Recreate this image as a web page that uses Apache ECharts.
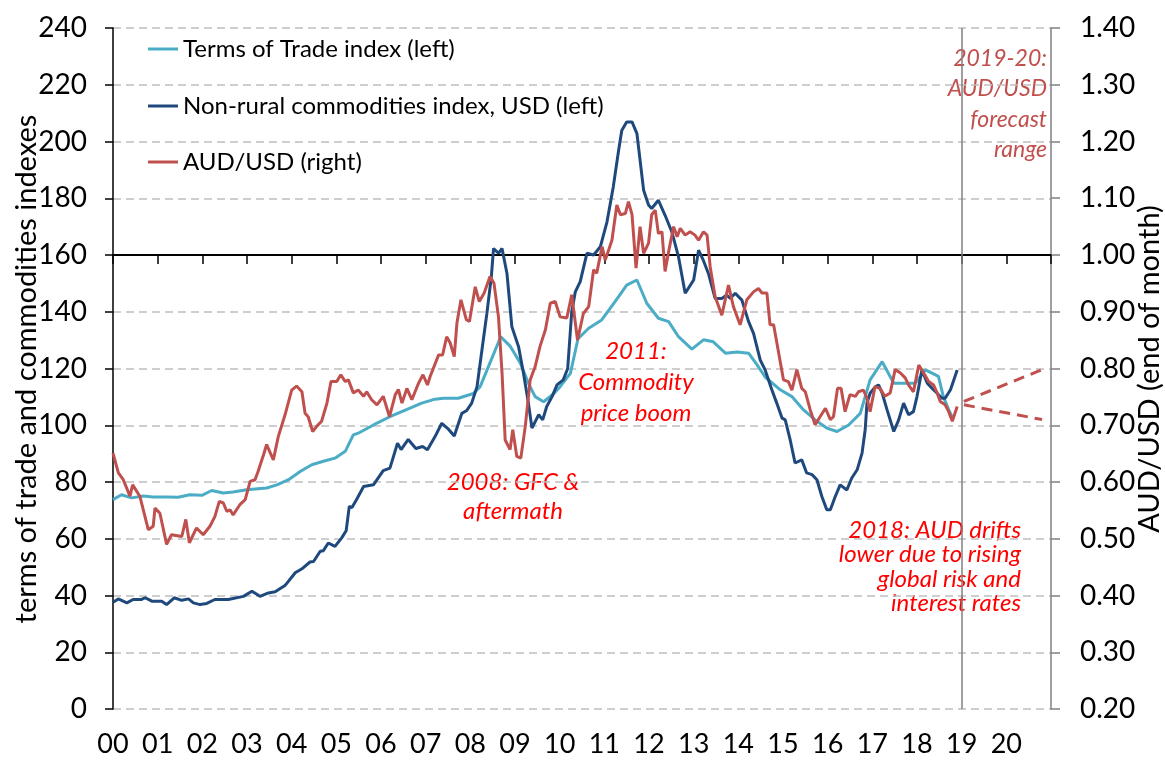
<!DOCTYPE html>
<html>
<head>
<meta charset="utf-8">
<script src="https://cdn.jsdelivr.net/npm/echarts/dist/echarts.min.js"></script>
<style>
  html, body { margin: 0; padding: 0; background: #fff; }
  #chart { width: 1165px; height: 764px; }
</style>
</head>
<body>
<div id="chart"></div>
<script>
// data: [decimal year, value]
var totIndex = [
  [2000.00,73.8],[2000.19,75.5],[2000.42,74.4],[2000.68,75.1],[2000.90,74.7],[2001.20,74.7],
  [2001.46,74.6],[2001.72,75.5],[2001.99,75.3],[2002.21,77.0],[2002.47,76.1],[2002.69,76.5],
  [2002.99,77.3],[2003.44,77.9],[2003.67,79.0],[2003.93,80.8],[2004.19,83.7],[2004.45,86.1],
  [2004.71,87.3],[2004.97,88.4],[2005.20,90.8],[2005.38,96.6],[2005.49,97.2],[2005.83,100.1],
  [2006.20,103.0],[2006.65,106.0],[2006.91,107.8],[2007.21,109.2],[2007.40,109.5],[2007.73,109.5],
  [2008.07,111.2],[2008.22,113.6],[2008.44,122.0],[2008.68,131.2],[2008.89,127.9],[2009.12,121.9],
  [2009.30,114.8],[2009.45,110.1],[2009.64,108.3],[2009.86,111.0],[2010.01,113.6],[2010.24,118.3],
  [2010.41,130.5],[2010.65,134.2],[2010.94,137.1],[2011.13,141.2],[2011.32,145.3],[2011.50,149.4],
  [2011.73,151.2],[2011.95,143.0],[2012.21,137.7],[2012.44,136.5],[2012.66,131.2],[2012.96,126.8],
  [2013.22,130.1],[2013.44,129.4],[2013.71,125.4],[2013.97,125.8],[2014.23,125.4],[2014.42,121.3],
  [2014.60,117.0],[2014.94,112.5],[2015.20,110.1],[2015.46,105.4],[2015.72,101.9],[2015.98,99.0],
  [2016.21,97.8],[2016.47,100.1],[2016.73,104.2],[2016.95,116.0],[2017.22,122.4],[2017.48,114.8],
  [2017.74,114.8],[2017.96,114.8],[2018.19,119.5],[2018.48,117.2],[2018.59,110.1],[2018.71,105.4],
  [2018.80,102.5]
];

var nonRuralIndex = [
  [2000.00,37.6],[2000.12,38.8],[2000.31,37.4],[2000.45,38.6],[2000.64,38.6],[2000.72,39.2],
  [2000.87,38.0],[2001.09,38.0],[2001.20,36.8],[2001.37,39.2],[2001.54,38.3],[2001.69,38.8],
  [2001.80,37.4],[2001.95,36.8],[2002.10,37.2],[2002.28,38.6],[2002.58,38.6],[2002.92,39.7],
  [2003.11,41.5],[2003.29,39.7],[2003.48,40.9],[2003.63,41.3],[2003.85,43.5],[2004.08,48.0],
  [2004.23,49.4],[2004.41,51.8],[2004.49,52.0],[2004.64,55.6],[2004.71,55.8],[2004.82,58.5],
  [2004.97,57.3],[2005.12,60.3],[2005.22,62.8],[2005.29,71.4],[2005.35,71.0],[2005.46,74.0],
  [2005.61,78.4],[2005.83,79.0],[2006.05,84.0],[2006.20,84.9],[2006.37,93.7],[2006.45,91.4],
  [2006.61,95.0],[2006.78,91.8],[2006.93,92.5],[2007.04,91.4],[2007.21,96.0],[2007.36,100.7],
  [2007.51,98.6],[2007.64,96.2],[2007.81,104.2],[2007.92,105.2],[2008.03,107.8],[2008.15,113.6],
  [2008.26,126.5],[2008.37,139.4],[2008.47,152.3],[2008.52,162.3],[2008.63,160.6],[2008.71,162.3],
  [2008.82,153.5],[2008.93,134.7],[2009.08,127.7],[2009.19,118.3],[2009.30,107.8],[2009.38,99.0],
  [2009.41,98.4],[2009.53,103.7],[2009.62,101.9],[2009.71,106.6],[2009.83,110.1],[2009.94,114.2],
  [2010.08,116.0],[2010.18,120.0],[2010.27,140.0],[2010.35,147.0],[2010.46,150.6],[2010.61,160.6],
  [2010.76,160.0],[2010.91,162.9],[2011.06,171.7],[2011.20,184.0],[2011.32,196.9],[2011.39,203.9],
  [2011.50,206.9],[2011.62,206.9],[2011.73,202.8],[2011.88,182.8],[2011.99,177.6],[2012.06,176.4],
  [2012.21,179.3],[2012.36,174.0],[2012.51,168.2],[2012.66,159.4],[2012.81,146.5],[2013.00,151.2],
  [2013.11,161.7],[2013.22,158.0],[2013.33,153.5],[2013.48,144.7],[2013.63,144.7],[2013.74,145.9],
  [2013.82,144.7],[2013.93,146.5],[2014.08,144.1],[2014.23,136.5],[2014.34,132.4],[2014.49,123.0],
  [2014.60,119.5],[2014.75,112.5],[2014.86,107.8],[2014.98,102.5],[2015.05,101.9],[2015.16,94.9],
  [2015.27,86.7],[2015.42,87.8],[2015.53,83.2],[2015.65,82.6],[2015.76,80.8],[2015.87,74.9],
  [2015.98,70.2],[2016.06,70.2],[2016.17,74.9],[2016.28,79.0],[2016.43,77.2],[2016.54,81.4],
  [2016.66,84.3],[2016.77,90.2],[2016.84,98.4],[2016.88,107.8],[2016.95,111.3],[2017.07,113.6],
  [2017.14,114.2],[2017.22,111.3],[2017.33,105.4],[2017.48,97.8],[2017.59,101.9],[2017.70,107.8],
  [2017.81,103.7],[2017.92,104.8],[2018.00,110.1],[2018.11,119.5],[2018.23,114.8],[2018.34,113.0],
  [2018.45,111.3],[2018.56,109.5],[2018.63,109.5],[2018.75,112.5],[2018.90,119.5]
];

var audUsd = [
  [2000.00,0.651],[2000.12,0.616],[2000.23,0.604],[2000.38,0.575],[2000.44,0.595],[2000.60,0.575],
  [2000.79,0.516],[2000.90,0.522],[2000.94,0.554],[2001.05,0.545],[2001.20,0.490],[2001.31,0.507],
  [2001.54,0.504],[2001.63,0.534],[2001.71,0.493],[2001.87,0.519],[2002.02,0.507],[2002.17,0.522],
  [2002.28,0.539],[2002.38,0.566],[2002.47,0.563],[2002.55,0.548],[2002.62,0.551],[2002.69,0.542],
  [2002.84,0.560],[2002.96,0.569],[2003.07,0.601],[2003.18,0.604],[2003.25,0.619],[2003.37,0.648],
  [2003.44,0.666],[2003.59,0.639],[2003.70,0.680],[2003.85,0.718],[2004.00,0.762],[2004.11,0.769],
  [2004.23,0.759],[2004.30,0.721],[2004.37,0.715],[2004.47,0.689],[2004.56,0.698],[2004.67,0.707],
  [2004.79,0.739],[2004.88,0.777],[2005.01,0.777],[2005.10,0.789],[2005.20,0.777],[2005.27,0.780],
  [2005.38,0.757],[2005.49,0.762],[2005.61,0.751],[2005.68,0.759],[2005.79,0.745],[2005.91,0.736],
  [2006.05,0.751],[2006.19,0.715],[2006.32,0.754],[2006.39,0.763],[2006.47,0.739],[2006.58,0.765],
  [2006.69,0.745],[2006.84,0.774],[2006.94,0.789],[2007.04,0.771],[2007.10,0.786],[2007.29,0.824],
  [2007.38,0.824],[2007.47,0.856],[2007.55,0.845],[2007.64,0.821],[2007.70,0.880],[2007.79,0.921],
  [2007.91,0.886],[2007.98,0.883],[2008.11,0.944],[2008.20,0.918],[2008.31,0.933],[2008.44,0.962],
  [2008.53,0.950],[2008.63,0.891],[2008.71,0.792],[2008.78,0.674],[2008.89,0.657],[2008.95,0.692],
  [2009.04,0.645],[2009.13,0.642],[2009.23,0.698],[2009.34,0.780],[2009.45,0.803],[2009.56,0.839],
  [2009.68,0.868],[2009.79,0.915],[2009.90,0.918],[2010.01,0.891],[2010.16,0.889],[2010.27,0.930],
  [2010.40,0.850],[2010.53,0.897],[2010.65,0.909],[2010.76,0.974],[2010.83,0.968],[2010.95,1.015],
  [2011.02,0.991],[2011.17,1.026],[2011.28,1.088],[2011.36,1.071],[2011.47,1.073],[2011.54,1.094],
  [2011.62,1.071],[2011.71,0.977],[2011.80,1.050],[2011.88,1.003],[2011.99,1.021],[2012.06,1.071],
  [2012.14,1.079],[2012.21,1.038],[2012.29,1.041],[2012.36,0.971],[2012.44,1.006],[2012.55,1.050],
  [2012.63,1.032],[2012.70,1.047],[2012.81,1.035],[2012.92,1.041],[2013.03,1.035],[2013.11,1.026],
  [2013.22,1.041],[2013.30,1.035],[2013.37,0.979],[2013.48,0.927],[2013.63,0.894],[2013.78,0.947],
  [2013.89,0.909],[2014.04,0.877],[2014.19,0.921],[2014.34,0.935],[2014.45,0.941],[2014.53,0.933],
  [2014.64,0.933],[2014.71,0.877],[2014.79,0.877],[2015.01,0.780],[2015.12,0.777],[2015.20,0.762],
  [2015.31,0.798],[2015.42,0.765],[2015.50,0.759],[2015.61,0.727],[2015.72,0.701],[2015.83,0.715],
  [2015.95,0.730],[2016.06,0.710],[2016.13,0.715],[2016.22,0.765],[2016.30,0.765],[2016.39,0.724],
  [2016.50,0.754],[2016.62,0.751],[2016.69,0.759],[2016.80,0.762],[2016.88,0.748],[2016.95,0.724],
  [2017.06,0.768],[2017.17,0.765],[2017.28,0.751],[2017.40,0.757],[2017.51,0.798],[2017.63,0.792],
  [2017.74,0.783],[2017.81,0.771],[2017.92,0.759],[2018.04,0.806],[2018.15,0.792],[2018.26,0.777],
  [2018.37,0.771],[2018.45,0.757],[2018.52,0.742],[2018.63,0.736],[2018.71,0.724],[2018.79,0.707],
  [2018.90,0.733]
];

var forecastHigh = [[2019.05,0.742],[2020.80,0.798]];
var forecastLow = [[2019.05,0.736],[2020.80,0.710]];

var seriesNames = ['Terms of Trade index (left)', 'Non-rural commodities index, USD (left)', 'AUD/USD (right)'];
var seriesColors = ['#4BACC6', '#1F497D', '#C0504D'];

var FONT = 'Lato, "Open Sans", sans-serif';

var chart = echarts.init(document.getElementById('chart'));

function legendFor(i, top) {
    return {
        data: [seriesNames[i]],
        left: 143,
        top: top,
        icon: 'rect',
        itemWidth: 30,
        itemHeight: 3,
        textStyle: { fontFamily: FONT, fontSize: 24, color: '#000' }
    };
}

var option = {
    animation: false,
    backgroundColor: '#fff',
    grid: { left: 113, right: 114, top: 28, bottom: 55 },
    legend: [legendFor(0, 32), legendFor(1, 89), legendFor(2, 145)],
    xAxis: [
        {
            type: 'value', min: 2000, max: 2021, interval: 1,
            axisLine: { show: false }, axisTick: { show: false },
            splitLine: { show: false },
            axisLabel: {
                fontFamily: FONT, fontSize: 27, color: '#000', margin: 22,
                formatter: function (v) {
                    if (v > 2020) return '';
                    var s = String(v - 2000);
                    return s.length < 2 ? '0' + s : s;
                }
            }
        },
        {
            // horizontal axis line drawn at AUD parity, ticks pointing down
            type: 'value', position: 'top', offset: -227, min: 2000, max: 2021, interval: 1,
            axisLine: { show: true, lineStyle: { color: '#000', width: 2 } },
            axisTick: { show: true, inside: true, length: 9, lineStyle: { color: '#000', width: 1.5 } },
            axisLabel: { show: false },
            splitLine: { show: false }
        }
    ],
    yAxis: [
        {
            type: 'value', min: 0, max: 240, interval: 20,
            axisLine: { show: true, lineStyle: { color: '#000', width: 1.5 } },
            axisTick: { show: true, length: 8, lineStyle: { color: '#000', width: 1.5 } },
            axisLabel: { fontFamily: FONT, fontSize: 28, color: '#000', margin: 26 },
            splitLine: { show: true, lineStyle: { color: '#BFBFBF', width: 1.5, type: [8, 5] } }
        },
        {
            type: 'value', min: 0.2, max: 1.4, interval: 0.1, position: 'right',
            axisLine: { show: true, lineStyle: { color: '#808080', width: 1.5 } },
            axisTick: { show: true, length: 9, lineStyle: { color: '#808080', width: 1.5 } },
            axisLabel: {
                fontFamily: FONT, fontSize: 28, color: '#000', margin: 29,
                formatter: function (v) { return v.toFixed(2); }
            },
            splitLine: { show: false }
        }
    ],
    series: [
        {
            name: seriesNames[0], type: 'line', data: totIndex, yAxisIndex: 0,
            symbol: 'none', color: seriesColors[0],
            lineStyle: { width: 3, color: seriesColors[0] },
            markLine: {
                silent: true, symbol: 'none', label: { show: false },
                lineStyle: { color: '#808080', width: 1.5, type: 'solid' },
                data: [{ xAxis: 2019 }]
            }
        },
        {
            name: seriesNames[1], type: 'line', data: nonRuralIndex, yAxisIndex: 0,
            symbol: 'none', color: seriesColors[1],
            lineStyle: { width: 3, color: seriesColors[1] }
        },
        {
            name: seriesNames[2], type: 'line', data: audUsd, yAxisIndex: 1,
            symbol: 'none', color: seriesColors[2],
            lineStyle: { width: 3, color: seriesColors[2] }
        },
        {
            name: 'forecast high', type: 'line', data: forecastHigh, yAxisIndex: 1,
            symbol: 'none', lineStyle: { width: 3, color: seriesColors[2], type: [11, 7] }
        },
        {
            name: 'forecast low', type: 'line', data: forecastLow, yAxisIndex: 1,
            symbol: 'none', lineStyle: { width: 3, color: seriesColors[2], type: [11, 7] }
        }
    ],
    graphic: [
        {
            type: 'text', x: 27, y: 369, rotation: Math.PI / 2,
            style: { text: 'terms of trade and commodities indexes', font: '29px ' + FONT,
                     fill: '#000', textAlign: 'center', textVerticalAlign: 'middle' }
        },
        {
            type: 'text', x: 1150, y: 369, rotation: Math.PI / 2,
            style: { text: 'AUD/USD (end of month)', font: '29px ' + FONT,
                     fill: '#000', textAlign: 'center', textVerticalAlign: 'middle' }
        },
        {
            type: 'text', x: 513, y: 468,
            style: { text: '2008: GFC &\naftermath', font: 'italic 24px ' + FONT, lineHeight: 29,
                     fill: '#FF0000', textAlign: 'center', textVerticalAlign: 'top' }
        },
        {
            type: 'text', x: 636, y: 336,
            style: { text: '2011:\nCommodity\nprice boom', font: 'italic 24px ' + FONT, lineHeight: 31,
                     fill: '#FF0000', textAlign: 'center', textVerticalAlign: 'top' }
        },
        {
            type: 'text', x: 1021, y: 518,
            style: { text: '2018: AUD drifts\nlower due to rising\nglobal risk and\ninterest rates',
                     font: 'italic 24px ' + FONT, lineHeight: 24.5,
                     fill: '#FF0000', textAlign: 'right', textVerticalAlign: 'top' }
        },
        {
            type: 'text', x: 1047, y: 43,
            style: { text: '2019-20:\nAUD/USD\nforecast\nrange', font: 'italic 23px ' + FONT, lineHeight: 30.5,
                     fill: '#C0504D', textAlign: 'right', textVerticalAlign: 'top' }
        }
    ]
};

chart.setOption(option);
</script>
</body>
</html>
